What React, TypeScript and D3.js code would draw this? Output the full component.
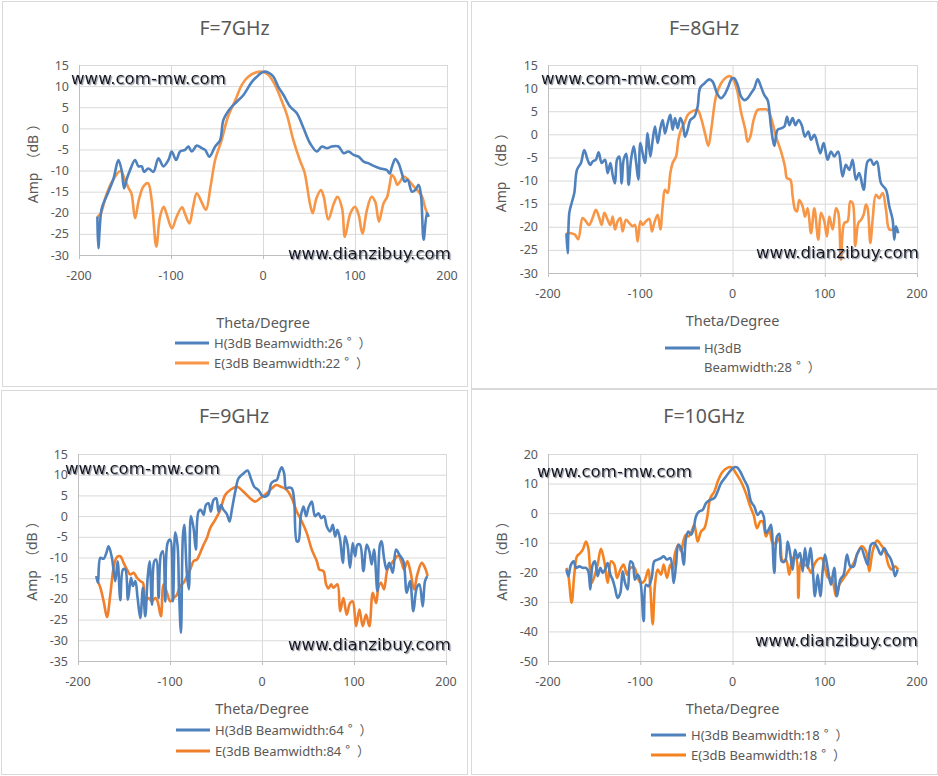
import * as d3 from 'd3';

type Pt = [number, number];

// theta (deg), amplitude (dB)
const h7GHz: Pt[] = [
  [-180, -20.9], [-179, -28.4], [-175.3, -19], [-169.9, -16], [-162.6, -12], [-157.2, -7.5], [-153.6, -10],
  [-151, -14.2], [-148.1, -12], [-144.5, -9.9], [-139.1, -7.5], [-135.4, -9], [-131.8, -9], [-129.3, -10.3],
  [-124.6, -9.5], [-119.1, -10.3], [-113.7, -7.1], [-108.3, -9], [-102.8, -7.5], [-99.2, -5.5], [-94.5, -7.5],
  [-90.1, -5.5], [-84.7, -5.1], [-81.1, -4.3], [-77.4, -5.5], [-72, -4.1], [-66.5, -4.7], [-62.9, -5.1],
  [-58.2, -6.7], [-52, -4.3], [-46.6, -2.8], [-43, 2], [-35.7, 4.7], [-28.5, 6.3], [-21.2, 7.9], [-12.1, 11],
  [-4.9, 12.6], [0.5, 13.4], [6, 13.2], [11.4, 12.2], [16.9, 9.7], [22.3, 7.9], [29.6, 5.1], [36.8, 3.6],
  [44.1, 0], [51.3, -3.6], [58.6, -5.5], [64, -4.3], [69.5, -4.7], [74.9, -4.3], [82.1, -4.3], [87.6, -5.9],
  [93, -5.5], [98.5, -6.3], [103.9, -6.7], [109.4, -7.9], [114.8, -8.3], [120.2, -8.9], [127.5, -9.5],
  [134.7, -9.9], [137.6, -10.7], [140.2, -9.1], [143.8, -7.3], [147.4, -8.3], [151, -10.7], [153.9, -12.6],
  [157.2, -12.2], [161.9, -15], [165.5, -14.6], [169.2, -13.4], [171.7, -15.8], [174.6, -26.4], [178.2, -20.1],
  [180, -20.9],
];
const e7GHz: Pt[] = [
  [-180, -21], [-176, -20], [-171, -16.2], [-164, -12.6], [-155, -10.1], [-150, -12.2], [-146, -14.2],
  [-143, -15.4], [-139, -21.3], [-135, -17], [-130, -13.8], [-125, -13], [-121, -17], [-116, -28], [-112, -21],
  [-108, -18.6], [-105, -20.1], [-99, -23.7], [-94, -21], [-88, -18.7], [-85, -20.1], [-80, -22.5],
  [-76, -18.6], [-72, -15.4], [-66, -17.8], [-62, -19.3], [-57, -13.8], [-52, -7.5], [-45, -2.8], [-38, 2.8],
  [-30, 6.7], [-23, 10.3], [-16, 12.2], [-8, 13.2], [-1, 13.4], [6, 12.6], [13, 10.3], [20, 6.7], [26, 3.2],
  [33, -2.8], [40, -7.5], [45, -10.3], [48, -13.8], [51, -17.8], [54, -20.1], [58, -16.6], [63, -14.6],
  [66, -16.2], [71, -21.6], [77, -17.8], [81, -16.2], [86, -19], [89, -25.7], [95, -20.1], [100, -18.6],
  [104, -20.5], [108, -24.9], [113, -19.3], [118, -16.2], [122, -17.4], [126, -22.1], [131, -17.8],
  [135, -16.2], [138, -13], [140, -11], [143, -11.8], [146, -13.4], [149, -12.6], [153, -11.4], [158, -12.2],
  [164, -13.8], [169, -15], [173, -16.2], [176, -18.6], [180, -21],
];

const h8GHz: Pt[] = [
  [-180, -21.4], [-178.7, -25.7], [-176.9, -17], [-174.4, -14.9], [-171.5, -12.7], [-168.6, -7.7],
  [-164.3, -6.2], [-160.7, -3.4], [-157.1, -5.5], [-154.2, -6.6], [-151.7, -5.9], [-148.1, -5.5],
  [-145.1, -3.9], [-141.8, -6.2], [-138.2, -5.5], [-135.3, -8.4], [-132.4, -6.2], [-129.9, -8.8],
  [-127.4, -10.6], [-125.2, -5.5], [-122.7, -4.8], [-120.1, -10.6], [-118, -5.5], [-115.1, -4.2],
  [-112.6, -10.9], [-110, -5.5], [-107.1, -2.6], [-104.6, -5.9], [-102.1, -9.8], [-99.9, -1.9],
  [-97.4, -4.1], [-94.9, -6.2], [-92, 0.2], [-89.1, -4.8], [-86.5, -1.2], [-84, 1.7], [-81.1, -1.9],
  [-78.2, 1.3], [-75.7, 3.1], [-73.2, 0.2], [-70.3, 2.4], [-67.4, 4.2], [-64.9, 1], [-62.3, 3.5],
  [-59.4, 1.3], [-56.6, 3.5], [-54, 2.4], [-51.5, -0.5], [-48.6, 1], [-45.7, 3.1], [-41.4, 3.8], [-37.8, 6],
  [-35.2, 10], [-30.5, 11], [-25.1, 11.9], [-21.5, 11.4], [-16.8, 8.9], [-12.5, 7.8], [-8.9, 8.5],
  [-5.2, 10], [-0.5, 12.1], [2, 12.1], [5.6, 10.7], [9.2, 8.2], [12.8, 7.4], [16.4, 7.8], [20.1, 8.9],
  [23.7, 10], [27.3, 11.9], [30.9, 10.3], [34.5, 8.5], [38.1, 7.4], [41.7, 1.7], [45.3, -2.5], [48.9, 1],
  [52.6, 1.3], [56.2, 1.7], [59.1, 3.8], [61.6, 2], [65.2, 3.5], [68.1, 2], [71.7, 3.1], [75, 2],
  [78.6, -0.5], [82.2, 0.6], [85.1, -1.2], [88.7, -0.1], [92.3, -2.3], [95.2, -4.1], [98.8, -1.9],
  [103.1, -5.5], [106.7, -3.7], [110.3, -4.8], [114.6, -3.7], [119.3, -9.1], [122.9, -6.6], [126.6, -7.7],
  [130.2, -5.5], [133.8, -9.8], [137.4, -8.4], [142.1, -12], [146.4, -5.9], [150, -5.5], [152.9, -6.6],
  [156.5, -5.9], [161, -10.6], [166.4, -12], [170, -15.6], [173.6, -18.5], [175.4, -22.8], [177.2, -19.9],
  [179.7, -21.4],
];
const e8GHz: Pt[] = [
  [-180, -21.4], [-175.1, -21.4], [-170.8, -21.7], [-167.2, -22.7], [-162.6, -18.1], [-160.1, -18.5],
  [-155.4, -19.6], [-151.7, -18.1], [-148.1, -16.3], [-144.4, -18.1], [-141.8, -19.6], [-138.9, -17],
  [-135.3, -18.5], [-132.4, -19.6], [-129.9, -17.8], [-127.4, -20.6], [-124.5, -18.8], [-121.6, -18.1],
  [-119.1, -21], [-115.5, -18.5], [-111.8, -19.2], [-108.2, -19.9], [-105.7, -19.6], [-102.8, -23.2],
  [-99.9, -18.8], [-97.4, -19.6], [-93.8, -18.8], [-90.2, -18.3], [-87.3, -21], [-84.8, -19.2],
  [-81.1, -17.4], [-78.2, -20.6], [-75.7, -15.6], [-73.2, -12], [-70.3, -12.7], [-67.4, -8.4], [-64.9, -6.2],
  [-61.2, -4.8], [-58.7, -1.2], [-55.8, 1], [-52.2, 2.4], [-48.6, 4.2], [-44.3, 4.9], [-37.8, 5.3],
  [-34.1, 3.5], [-29.8, 0.2], [-26.2, -2.5], [-22.6, 1.7], [-17.9, 8.2], [-12.5, 11], [-7, 12.3],
  [-3.4, 12.6], [0.2, 12.1], [4.9, 9.6], [9.2, 4.9], [13.9, 1], [16.4, -1.6], [19.3, -0.5], [22.9, 3.1],
  [27.3, 5.3], [32.7, 5.4], [38.1, 5.3], [42.5, 3.1], [47.2, -0.5], [52.6, -3.7], [56.9, -7], [59.1, -9.5],
  [62.7, -9.8], [65.2, -13.4], [67.8, -16.3], [69.9, -16.7], [72.4, -14.2], [76.1, -15.6], [78.6, -17.8],
  [81.5, -16], [85.1, -21.4], [88.7, -16], [93, -22.8], [95.9, -17], [99.5, -18.8], [102.4, -22.1],
  [104.9, -17.8], [108.6, -20.6], [112.2, -16], [114.7, -17], [117.6, -27.1], [121.2, -19.2], [124.8, -18.8],
  [127.7, -14.5], [130.3, -14.9], [133.1, -24.2], [136.4, -19.2], [139.3, -18.5], [142.1, -17.4],
  [144.7, -15.2], [146.5, -16], [149.4, -23.5], [151.9, -18.5], [155.5, -13.1], [159.1, -13.8],
  [162.8, -12.7], [166.4, -16.3], [170, -20.6], [174.7, -20.6], [179.7, -21.2],
];

const h9GHz: Pt[] = [
  [-180, -14.5], [-178.3, -16.1], [-175.7, -10.1], [-172.1, -10.3], [-169.2, -8.9], [-166.7, -7.3],
  [-163.1, -10.1], [-159.5, -15.7], [-156.9, -10.9], [-154, -20.3], [-151.1, -12.9], [-148.6, -12.9],
  [-145.7, -20.2], [-142.4, -14.9], [-140.3, -16.9], [-137.7, -15.7], [-135.2, -19.8], [-132.3, -24.6],
  [-129.4, -17.3], [-126.9, -24.2], [-124.3, -14.9], [-122.2, -10.9], [-119.6, -21.4], [-117.1, -10.9],
  [-114.9, -10.5], [-112.4, -19.8], [-109.9, -9.3], [-107.7, -8.5], [-105.2, -20.6], [-102.6, -6.5],
  [-99.7, -5.7], [-96.8, -20.6], [-94.3, -3.9], [-91.7, -7.3], [-90.3, -17.3], [-88.1, -28.2], [-86, -4.9],
  [-84.5, -2.1], [-81.6, -14.1], [-79.5, -17.7], [-77.3, 0], [-74.4, -2.9], [-71.9, -8.1], [-69, 1.1],
  [-66.4, 1.5], [-63.5, 0.3], [-61, 2.7], [-58.1, 3.1], [-55.6, 1.1], [-52.7, 3.9], [-49.8, 4.3],
  [-47.2, 1.1], [-44.7, 2.7], [-41.8, 1.5], [-38.2, 0.5], [-35.3, -1.3], [-32.8, 1.5], [-29.1, 5.9],
  [-25.5, 9.1], [-20.1, 10.3], [-15.7, 11], [-12.1, 9.1], [-8.5, 7.1], [-3.8, 6.3], [-0.2, 5], [3.4, 4.7],
  [7.1, 5.3], [10, 7.9], [13.2, 8.5], [16.1, 8.7], [19, 10.7], [21.5, 11.8], [24.1, 10.3], [26.2, 6.7],
  [29.1, 6.9], [32.4, 6.7], [34.9, 3.9], [37.8, -6.1], [39.6, -6.1], [42.2, 0], [45.1, 2.3], [48, 0],
  [50.5, 2], [54.1, 3.5], [57.7, 0], [61.4, 0.7], [64.3, -0.5], [67.5, 0], [70.4, -2.5], [74, -3.7],
  [76.9, -2.1], [79.5, -4.9], [82, -3.3], [84.9, -5.7], [87.8, -11.3], [90.3, -4.9], [92.9, -6.9],
  [95.7, -12.5], [98.6, -6.5], [101.2, -9.7], [103.7, -6.9], [106.6, -6.9], [110.2, -13.3], [113.8, -6.9],
  [116.7, -8.5], [119.2, -11.7], [121.8, -8.1], [125.4, -18.1], [128.2, -6.9], [130, -6.1], [132.6, -10.1],
  [135.5, -12.9], [138.4, -11.3], [142.1, -13.7], [145.7, -8.1], [149.3, -9.3], [153.7, -10.9],
  [157.3, -18.5], [160.9, -15.7], [164.5, -23], [168.2, -17.3], [171.1, -16.5], [174.7, -21.8],
  [177.2, -15.7], [179.7, -14.5],
];
const e9GHz: Pt[] = [
  [-180, -14.5], [-178.5, -15.7], [-175.7, -17.3], [-172.1, -20.6], [-168.5, -24.4], [-164.9, -19],
  [-161.3, -12.5], [-157.7, -9.9], [-154, -9.7], [-150.4, -11.3], [-146.8, -12.9], [-143.2, -14.1],
  [-139.5, -13.7], [-135.9, -14.9], [-132.3, -15.7], [-129.4, -16.1], [-126.9, -20.6], [-123.3, -19.8],
  [-119.6, -20.6], [-116, -19.8], [-113.5, -20.6], [-109.9, -24.2], [-107, -16.5], [-103.3, -18.5],
  [-99.7, -20.6], [-96.1, -19.8], [-92.5, -19], [-88.9, -16.9], [-85.2, -16.1], [-81.6, -14.5], [-78, -12.9],
  [-74.4, -10.9], [-70.8, -10.5], [-67.2, -8.9], [-63.5, -6.9], [-59.9, -5.3], [-56.3, -2.9], [-50.9, -0.9],
  [-45.4, 1.5], [-40, 5.1], [-34.6, 6.3], [-27.3, 7.1], [-20.1, 5.9], [-12.9, 4.3], [-7.4, 3.5], [-2, 4.3],
  [5.2, 5.5], [10.7, 6.7], [15.4, 7.5], [20.5, 7.1], [27, 6.3], [32.4, 4.3], [37.8, 1.1], [43.3, -1.3],
  [48.7, -4.1], [54.1, -8.1], [59.6, -10.9], [62.4, -12.9], [66.8, -13.3], [69.7, -16.5], [72.2, -17.5],
  [75.1, -16.5], [77.6, -17.3], [82, -16.5], [84.9, -23], [88.5, -19.8], [92.1, -23.8], [95.7, -21],
  [98.6, -20.6], [102.3, -26.6], [105.9, -22.6], [109.5, -26.6], [113.1, -23.8], [116.7, -26.6],
  [120.4, -18.5], [124, -21], [126.5, -17.3], [129.4, -16.1], [132.6, -17.7], [136.3, -12.9], [139.9, -11.7],
  [143.9, -10.5], [148.2, -9.5], [151.8, -11.3], [154.4, -12.9], [158, -10.9], [161.6, -13.7],
  [165.2, -17.7], [168.9, -14.1], [173.6, -11.3], [177.2, -12.5], [180, -14.5],
];

const h10GHz: Pt[] = [
  [-180, -19.1], [-178, -21.3], [-175.1, -17.4], [-172.2, -16.3], [-169.6, -18.5], [-166, -18],
  [-162.4, -18.5], [-158.8, -18.5], [-156.3, -19.7], [-154.1, -25.8], [-151.6, -17.4], [-149.1, -16.3],
  [-146.2, -21.3], [-143.3, -18.5], [-140.7, -20.2], [-138.2, -19.1], [-135.3, -16.9], [-132.4, -20.8],
  [-129.9, -22.5], [-127.4, -25.3], [-124.5, -28.7], [-121.6, -27], [-119.1, -19.7], [-116.5, -23.6],
  [-113.6, -25.8], [-110.7, -16.3], [-108.2, -16.9], [-105.7, -22.5], [-102.8, -20.8], [-99.9, -23],
  [-96.3, -36.5], [-93.8, -24.2], [-91.2, -24.7], [-87.6, -21.9], [-84.8, -16.3], [-81.1, -15.7],
  [-77.5, -15.2], [-74.6, -14.6], [-71, -15.7], [-67.4, -15.2], [-63.8, -23.6], [-61.2, -17.4],
  [-58.7, -10.7], [-55.8, -11.8], [-52.9, -17.4], [-50.4, -8.4], [-47.9, -6.2], [-45, -7.3], [-42.1, -5.1],
  [-39.6, -1.1], [-36, 0.6], [-32.3, 1.1], [-28.7, 3.4], [-24, 4.5], [-19.7, 5.1], [-16.1, 7.3],
  [-12.5, 10.1], [-7, 12.4], [-1.6, 14.6], [2, 15.5], [4.9, 15.5], [8.5, 14], [12.8, 11.2], [16.4, 9],
  [20.1, 3.9], [23.7, 2.2], [27.3, -0.6], [30.9, 0.6], [33.8, -1.1], [36.3, -6.7], [39.9, -5.1],
  [41.7, -3.9], [45.3, -20.2], [48.2, -7.9], [50.8, -7], [53.3, -16.3], [56.9, -16.3], [59.8, -9.6],
  [62.7, -14], [65.2, -19.1], [67.8, -12.4], [70.6, -15.2], [73.2, -13.5], [76.1, -19.7], [78.6, -11.8],
  [81.5, -18.5], [84.4, -11.8], [86.9, -18.5], [89.4, -28.1], [92.3, -20.8], [95.2, -28.1], [97.7, -19.7],
  [100.2, -14], [103.1, -18.5], [106.7, -24.2], [110.3, -18.5], [113.2, -28.1], [116.8, -22.5],
  [120.5, -20.8], [124.1, -14], [127.7, -18], [131.3, -18], [134.9, -14], [139.3, -11.8], [143.6, -15.2],
  [146.5, -17.4], [150.1, -10.7], [153.7, -10.1], [157.3, -11.8], [160.9, -14], [164.5, -11.8],
  [167.4, -13.5], [171.1, -15.2], [173.6, -17.4], [176.1, -21.3], [179, -19.1],
];
const e10GHz: Pt[] = [
  [-180, -18.5], [-178, -20.8], [-174.4, -30.3], [-171.5, -20.8], [-168.6, -14.6], [-165, -13.5],
  [-162.4, -12.4], [-158.8, -9.6], [-156.3, -11.8], [-152.7, -23.6], [-149.1, -20.8], [-146.2, -17.4],
  [-142.6, -12.1], [-139, -16.3], [-135.3, -23.6], [-131.7, -16.3], [-128.1, -17.4], [-125.2, -21.9],
  [-121.6, -19.1], [-118, -17.4], [-114.4, -20.8], [-110.7, -18.5], [-106.4, -18.5], [-102.8, -21.9],
  [-99.2, -23.6], [-95.6, -23], [-91.2, -19.1], [-89.1, -25.3], [-86.5, -37.6], [-84, -24.2], [-81.1, -19.1],
  [-77.5, -20.8], [-74.6, -17.4], [-71, -21.9], [-67.4, -17.4], [-64.9, -19.1], [-62.3, -13.5],
  [-58.7, -10.7], [-55.8, -12.9], [-52.9, -9], [-50.4, -7.3], [-47.9, -7.9], [-45, -6.7], [-41.4, -3.9],
  [-37.8, -9.6], [-34.1, -6.2], [-30.5, -5.1], [-27.6, -1.7], [-24, 5.1], [-19.7, 7.3], [-15.4, 11.2],
  [-10.7, 14], [-5.2, 15.4], [-0.9, 15.5], [3.8, 13.5], [9.2, 10.7], [14.6, 6.7], [19.3, 2.2], [22.9, -0.6],
  [26.6, -5.1], [30.2, -2.8], [32.7, -2.8], [36.3, -7.9], [39.9, -5.6], [43.5, -10.1], [47.2, -10.1],
  [50.8, -8.4], [54.4, -16.3], [58, -15.7], [61.6, -20.8], [65.2, -15.2], [68.8, -15.2], [71.4, -28.7],
  [74.3, -16.3], [77.9, -17.4], [81.5, -18], [85.1, -20.2], [88.7, -17.4], [92.3, -15.7], [96.6, -15.2],
  [100.2, -18.5], [103.9, -21.9], [107.5, -21.9], [112.2, -28.1], [115.8, -24.2], [119.4, -22.5],
  [123.1, -20.8], [126.7, -19.1], [131.3, -16.9], [135.7, -13.5], [140, -11.2], [144.7, -12.9],
  [148.3, -19.7], [151.9, -12.9], [156.6, -9.3], [160.9, -10.7], [165.3, -12.9], [168.9, -17.4],
  [172.5, -19.1], [176.1, -18], [179.7, -19.1],
];

const thetaTicks = [-200, -100, 0, 100, 200];
const ampTicks7 = [15, 10, 5, 0, -5, -10, -15, -20, -25, -30];
const ampTicks8 = [15, 10, 5, 0, -5, -10, -15, -20, -25, -30];
const ampTicks9 = [15, 10, 5, 0, -5, -10, -15, -20, -25, -30, -35];
const ampTicks10 = [20, 10, 0, -10, -20, -30, -40, -50];

const titles = ['F=7GHz', 'F=8GHz', 'F=9GHz', 'F=10GHz'];
const hBeamwidths = [26, 28, 64, 18];
const eBeamwidths = [22, null, 84, 18];

const BLUE = '#4f81bd';
const ORANGE = ['#f79646', '#f79646', '#ef7f2c', '#f58220'];
const GREY = '#595959';
const FONT = '"Noto Sans", "Open Sans", sans-serif';
const CJK = '"Noto Sans CJK SC", sans-serif';

type PanelProps = {
  idx: number;
  frame: [number, number, number, number];
  plot: { left: number; right: number; top: number; bottom: number };
  ticks: number[];
  h: Pt[];
  e: Pt[];
  titleY: number;
  xLabelY: number;
  yLabelX: number;
  legend: { x1: number; x2: number; tx: number; y1: number; y2: number; wrap?: boolean };
  marks: { ax: number; ay: number; bx: number; by: number };
};

// degree sign and full-width bracket, spaced as the original renders them
const Deg = () => (
  <>
    <tspan dx={4} fontFamily={CJK} dy={-1}>°</tspan>
    <tspan dx={7} fontFamily={CJK} dy={1}>）</tspan>
  </>
);

const Panel = ({ idx, frame, plot, ticks, h, e, titleY, xLabelY, yLabelX, legend, marks }: PanelProps) => {
  const x = d3.scaleLinear().domain([-200, 200]).range([plot.left, plot.right]);
  const y = d3
    .scaleLinear()
    .domain([d3.min(ticks)!, d3.max(ticks)!])
    .range([plot.bottom, plot.top]);
  const line = d3
    .line<Pt>()
    .x((d) => x(d[0]))
    .y((d) => y(d[1]))
    .curve(d3.curveCatmullRom.alpha(0.5));
  const cx = (plot.left + plot.right) / 2;
  const [fx, fy, fw, fh] = frame;
  const yMid = (plot.top + plot.bottom) / 2;

  return (
    <g>
      <rect x={fx + 0.5} y={fy + 0.5} width={fw} height={fh} fill="#fff" stroke="#d9d9d9" />
      <text x={fx + fw / 2} y={titleY} textAnchor="middle" fontFamily={FONT} fontSize={19.5} fill={GREY}>
        {titles[idx]}
      </text>

      {ticks.map((t) => (
        <line key={'gy' + t} x1={plot.left} x2={plot.right} y1={y(t) + 0.5} y2={y(t) + 0.5}
          stroke={t === d3.min(ticks) ? '#bfbfbf' : '#d9d9d9'} />
      ))}
      {thetaTicks.map((t) => (
        <line key={'gx' + t} x1={x(t) + 0.5} x2={x(t) + 0.5} y1={plot.top} y2={plot.bottom}
          stroke={t === -200 ? '#bfbfbf' : '#d9d9d9'} />
      ))}
      {thetaTicks.map((t) => (
        <line key={'tk' + t} x1={x(t) + 0.5} x2={x(t) + 0.5} y1={plot.bottom} y2={plot.bottom + 4} stroke="#bfbfbf" />
      ))}

      {ticks.map((t) => (
        <text key={'ly' + t} x={plot.left - 10} y={y(t) + 4.5} textAnchor="end" fontFamily={FONT}
          fontSize={12.5} fill={GREY}>
          {t}
        </text>
      ))}
      {thetaTicks.map((t) => (
        <text key={'lx' + t} x={x(t)} y={plot.bottom + 24.5} textAnchor="middle" fontFamily={FONT}
          fontSize={12.5} fill={GREY}>
          {t}
        </text>
      ))}

      <path d={line(e) ?? ''} fill="none" stroke={ORANGE[idx]} strokeWidth={2.6} strokeLinejoin="round" />
      <path d={line(h) ?? ''} fill="none" stroke={BLUE} strokeWidth={2.6} strokeLinejoin="round" />

      <text x={cx} y={xLabelY} textAnchor="middle" fontFamily={FONT} fontSize={14.5} fill={GREY}>
        Theta/Degree
      </text>
      <text transform={`translate(${yLabelX},${yMid}) rotate(-90)`} textAnchor="middle" fontSize={14}
        fill={GREY} fontFamily={FONT}>
        Amp<tspan dx={6} fontFamily={CJK}>（</tspan>dB<tspan dx={4} fontFamily={CJK}>）</tspan>
      </text>

      <line x1={legend.x1} x2={legend.x2} y1={legend.y1} y2={legend.y1} stroke={BLUE} strokeWidth={2.8} />
      {legend.wrap ? (
        <>
          <text x={legend.tx} y={legend.y1 + 4.5} fontFamily={FONT} fontSize={13} fill={GREY}>H(3dB</text>
          <text x={legend.tx} y={legend.y2 + 4.5} fontFamily={FONT} fontSize={13} fill={GREY}>
            Beamwidth:{hBeamwidths[idx]}<Deg />
          </text>
        </>
      ) : (
        <>
          <text x={legend.tx} y={legend.y1 + 4.5} fontFamily={FONT} fontSize={13} fill={GREY}>
            H(3dB Beamwidth:{hBeamwidths[idx]}<Deg />
          </text>
          <line x1={legend.x1} x2={legend.x2} y1={legend.y2} y2={legend.y2} stroke={ORANGE[idx]} strokeWidth={2.8} />
          <text x={legend.tx} y={legend.y2 + 4.5} fontFamily={FONT} fontSize={13} fill={GREY}>
            E(3dB Beamwidth:{eBeamwidths[idx]}<Deg />
          </text>
        </>
      )}

      <g filter="url(#wm)" fontFamily='"DejaVu Sans", Verdana, sans-serif' fontSize={16.6} fill="#141420">
        <text x={marks.ax} y={marks.ay}>www.com-mw.com</text>
        <text x={marks.bx} y={marks.by}>www.dianzibuy.com</text>
      </g>
    </g>
  );
};

const App = () => (
  <svg width={938} height={776} style={{ position: 'absolute', left: 0, top: 0, background: '#fff' }}>
    <defs>
      <filter id="wm" x="-5%" y="-30%" width="110%" height="160%">
        <feDropShadow dx="1.2" dy="1.2" stdDeviation="0.6" floodColor="#7a7f8c" floodOpacity="0.85" />
      </filter>
    </defs>
    <Panel idx={0} frame={[2, 1, 465, 385]} plot={{ left: 79, right: 447, top: 65, bottom: 255 }}
      ticks={ampTicks7} h={h7GHz} e={e7GHz} titleY={35} xLabelY={328} yLabelX={38}
      legend={{ x1: 175, x2: 209, tx: 214, y1: 343, y2: 363 }}
      marks={{ ax: 71, ay: 84, bx: 288, by: 259 }} />
    <Panel idx={1} frame={[471, 1, 466, 387]} plot={{ left: 548, right: 917, top: 65, bottom: 273 }}
      ticks={ampTicks8} h={h8GHz} e={e8GHz} titleY={35} xLabelY={326} yLabelX={506}
      legend={{ x1: 665, x2: 700, tx: 704, y1: 348, y2: 367, wrap: true }}
      marks={{ ax: 541, ay: 84, bx: 756, by: 258 }} />
    <Panel idx={2} frame={[1, 390, 466, 384]} plot={{ left: 78, right: 446, top: 454, bottom: 661 }}
      ticks={ampTicks9} h={h9GHz} e={e9GHz} titleY={423} xLabelY={714} yLabelX={37}
      legend={{ x1: 176, x2: 210, tx: 215, y1: 730, y2: 751 }}
      marks={{ ax: 65, ay: 474, bx: 288, by: 650 }} />
    <Panel idx={3} frame={[471, 389, 466, 385]} plot={{ left: 548, right: 917, top: 454, bottom: 661 }}
      ticks={ampTicks10} h={h10GHz} e={e10GHz} titleY={423} xLabelY={714} yLabelX={507}
      legend={{ x1: 651, x2: 686, tx: 691, y1: 735, y2: 755 }}
      marks={{ ax: 537, ay: 477, bx: 755, by: 646 }} />
  </svg>
);

export default App;
